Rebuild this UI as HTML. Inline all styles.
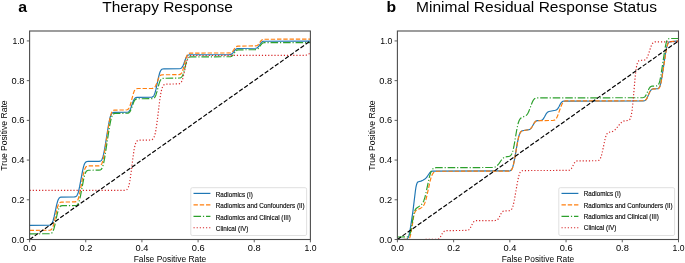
<!DOCTYPE html>
<html><head><meta charset="utf-8"><style>
html,body{margin:0;padding:0;background:#fff;}
svg{display:block;}
</style></head><body>
<svg width="685" height="263" viewBox="0 0 685 263" font-family="Liberation Sans, sans-serif" fill="#000">
<rect width="685" height="263" fill="#fff"/>
<g opacity="0.999">
<defs><clipPath id="ca"><rect x="29.6" y="31.0" width="280.80" height="208.50"/></clipPath><clipPath id="cb"><rect x="397.4" y="31.0" width="281.10" height="208.50"/></clipPath></defs>
<g stroke-linecap="butt" stroke-linejoin="round" clip-path="url(#ca)">
<path d="M29.60,225.30 49.09,225.25 50.09,225.09 50.59,224.88 51.08,224.54 51.58,224.00 52.08,223.21 52.58,222.11 53.08,220.68 54.08,216.89 56.58,205.13 57.58,201.42 58.08,200.03 58.58,198.98 59.08,198.22 59.58,197.71 60.08,197.38 60.58,197.20 74.57,196.93 75.57,196.69 76.07,196.42 76.57,195.97 77.07,195.28 77.57,194.29 78.07,192.97 78.57,191.28 79.56,186.93 82.56,170.86 83.56,166.66 84.06,165.06 84.56,163.83 85.06,162.92 85.56,162.30 86.06,161.90 86.56,161.66 87.56,161.46 99.05,161.35 100.05,161.18 100.55,160.97 101.05,160.61 101.55,160.04 102.05,159.18 102.55,157.98 103.05,156.40 103.55,154.44 104.55,149.49 108.54,124.82 109.54,119.74 110.04,117.70 110.54,116.03 111.04,114.75 111.54,113.83 112.04,113.19 112.54,112.79 113.04,112.55 114.04,112.35 127.03,112.23 128.03,111.99 128.53,111.74 129.03,111.34 129.53,110.75 130.03,109.94 130.53,108.90 133.03,101.81 133.53,100.58 134.03,99.56 134.53,98.78 135.02,98.21 135.52,97.82 136.02,97.58 137.02,97.37 151.01,97.26 152.01,97.10 152.51,96.91 153.01,96.59 153.51,96.08 154.01,95.31 154.51,94.25 155.01,92.86 156.01,89.13 158.51,77.32 159.51,73.49 160.01,72.05 160.51,70.94 161.01,70.13 161.51,69.58 162.01,69.23 162.51,69.02 164.00,68.82 179.49,68.74 180.49,68.54 180.99,68.31 181.49,67.95 181.99,67.42 182.49,66.67 182.99,65.71 183.99,63.20 185.49,59.02 185.99,57.84 186.49,56.86 186.99,56.11 187.49,55.57 187.99,55.20 188.49,54.97 189.49,54.76 229.46,54.66 230.46,54.53 231.46,54.18 231.96,53.86 232.96,52.88 234.95,50.22 235.95,49.21 236.45,48.87 237.45,48.49 255.44,48.24 256.44,48.06 256.94,47.87 257.44,47.59 257.94,47.18 258.94,46.00 260.94,43.03 261.43,42.44 261.93,41.98 262.43,41.64 263.43,41.27 310.40,41.10" stroke="#1f77b4" stroke-width="1.18" fill="none"/>
<path d="M29.60,230.30 49.09,230.27 50.09,230.14 50.59,229.98 51.08,229.70 51.58,229.25 52.08,228.56 52.58,227.59 53.08,226.29 53.58,224.67 54.58,220.56 56.58,211.01 57.58,207.06 58.08,205.55 58.58,204.36 59.08,203.49 59.58,202.88 60.08,202.49 60.58,202.26 61.58,202.06 75.07,201.93 76.07,201.68 76.57,201.39 77.07,200.93 77.57,200.22 78.07,199.21 78.57,197.86 79.06,196.15 80.06,191.74 83.06,175.54 84.06,171.29 84.56,169.66 85.06,168.40 85.56,167.47 86.06,166.83 86.56,166.42 87.06,166.17 88.06,165.96 99.05,165.83 100.05,165.60 100.55,165.33 101.05,164.88 101.55,164.17 102.05,163.16 102.55,161.77 103.05,159.99 104.05,155.29 109.04,123.47 110.04,118.13 110.54,115.95 111.04,114.16 111.54,112.77 112.04,111.74 112.54,111.03 113.04,110.58 113.54,110.30 114.54,110.07 126.03,109.96 127.03,109.79 127.53,109.60 128.03,109.28 128.53,108.77 129.03,108.03 129.53,107.02 130.03,105.71 131.03,102.32 133.03,94.53 133.53,92.92 134.03,91.59 134.53,90.55 135.02,89.78 135.52,89.26 136.02,88.92 136.52,88.72 138.02,88.52 152.01,88.46 153.01,88.33 153.51,88.16 154.01,87.89 154.51,87.47 155.01,86.86 155.51,86.04 156.51,83.78 158.51,78.39 159.01,77.31 159.51,76.46 160.01,75.81 160.51,75.36 161.01,75.07 162.01,74.80 178.99,74.63 179.99,74.40 180.49,74.14 180.99,73.72 181.49,73.09 181.99,72.20 182.49,71.02 183.49,67.83 185.49,59.94 186.49,56.73 186.99,55.54 187.49,54.64 187.99,54.00 188.49,53.57 188.99,53.31 189.99,53.07 229.46,52.96 230.46,52.82 230.96,52.66 231.46,52.42 231.96,52.07 232.46,51.60 233.45,50.32 234.95,48.11 235.95,47.00 236.45,46.63 236.95,46.37 237.95,46.11 255.44,45.94 256.44,45.77 256.94,45.59 257.44,45.32 257.94,44.93 258.94,43.80 260.94,40.95 261.43,40.38 261.93,39.94 262.43,39.62 263.43,39.26 310.40,39.10" stroke="#ff7f0e" stroke-width="1.18" fill="none" stroke-dasharray="4.37 1.89"/>
<path d="M29.60,233.80 49.59,233.77 50.59,233.64 51.08,233.48 51.58,233.20 52.08,232.75 52.58,232.07 53.08,231.11 53.58,229.82 54.08,228.20 55.08,224.10 57.08,214.57 58.08,210.64 58.58,209.13 59.08,207.95 59.58,207.08 60.08,206.48 60.58,206.09 61.08,205.86 62.08,205.66 75.57,205.53 76.57,205.30 77.07,205.03 77.57,204.58 78.07,203.90 78.57,202.93 79.06,201.61 79.56,199.94 80.56,195.60 83.56,179.59 84.56,175.41 85.06,173.83 85.56,172.60 86.06,171.70 86.56,171.09 87.06,170.69 87.56,170.46 88.56,170.26 99.05,170.16 100.05,170.02 100.55,169.83 101.05,169.51 101.55,168.98 102.05,168.18 102.55,167.04 103.05,165.53 103.55,163.61 104.55,158.69 109.54,126.58 110.54,121.27 111.04,119.12 111.54,117.35 112.04,115.98 112.54,114.98 113.04,114.29 113.54,113.85 114.04,113.59 115.04,113.36 127.03,113.26 128.03,113.10 128.53,112.92 129.03,112.63 129.53,112.17 130.03,111.52 130.53,110.64 131.53,108.24 133.53,102.58 134.03,101.46 134.53,100.56 135.02,99.88 135.52,99.41 136.02,99.10 137.02,98.80 152.01,98.66 153.01,98.52 153.51,98.34 154.01,98.05 154.51,97.58 155.01,96.89 155.51,95.93 156.01,94.69 157.01,91.44 159.01,83.89 159.51,82.34 160.01,81.05 160.51,80.05 161.01,79.32 161.51,78.82 162.01,78.50 162.51,78.31 179.49,78.03 180.49,77.81 180.99,77.56 181.49,77.16 181.99,76.54 182.49,75.67 182.99,74.52 183.99,71.38 185.99,63.60 186.99,60.44 187.49,59.27 187.99,58.39 188.49,57.77 188.99,57.35 189.49,57.10 190.49,56.87 229.96,56.74 230.96,56.56 231.46,56.37 231.96,56.09 232.46,55.68 233.45,54.51 235.45,51.58 235.95,51.00 236.45,50.55 236.95,50.22 237.95,49.86 255.44,49.66 256.44,49.52 256.94,49.36 257.44,49.12 257.94,48.77 258.44,48.30 259.44,47.01 260.94,44.77 261.93,43.63 262.43,43.25 262.93,42.99 263.93,42.71 310.40,42.60" stroke="#2ca02c" stroke-width="1.18" fill="none" stroke-dasharray="7.55 1.89 1.18 1.89"/>
<path d="M29.60,190.40 124.53,190.35 125.53,190.22 126.03,190.08 126.53,189.83 127.03,189.43 127.53,188.83 128.03,187.93 128.53,186.67 129.03,184.97 129.53,182.78 130.03,180.05 131.03,173.16 133.03,156.92 134.03,150.13 134.53,147.46 135.02,145.32 135.52,143.67 136.02,142.45 136.52,141.59 137.02,141.01 137.52,140.64 138.02,140.40 139.02,140.19 150.51,140.02 151.51,139.85 152.01,139.66 152.51,139.37 153.01,138.92 153.51,138.26 154.01,137.32 154.51,136.03 155.01,134.33 155.51,132.15 156.01,129.48 157.01,122.72 159.51,102.02 160.51,95.11 161.01,92.36 161.51,90.10 162.01,88.32 162.51,86.97 163.00,85.97 163.50,85.27 164.00,84.79 164.50,84.48 165.50,84.16 178.49,83.91 179.49,83.70 179.99,83.48 180.49,83.13 180.99,82.60 181.49,81.85 181.99,80.82 182.49,79.49 182.99,77.83 183.99,73.64 185.99,64.06 186.99,60.28 187.49,58.87 187.99,57.77 188.49,56.96 188.99,56.38 189.49,55.99 189.99,55.75 190.99,55.50 304.90,55.37 305.90,55.24 306.90,54.84 308.40,54.01 309.40,53.70 310.40,53.61" stroke="#d62728" stroke-width="1.18" fill="none" stroke-dasharray="1.18 1.95"/>
<path d="M29.60,239.50L310.40,40.93" stroke="#000" stroke-width="1.18" fill="none" stroke-dasharray="4.37 1.89"/>
</g>
<g stroke-linecap="butt" stroke-linejoin="round" clip-path="url(#cb)">
<path d="M397.40,239.50 405.40,239.46 406.40,239.30 406.90,239.08 407.40,238.69 407.90,238.02 408.40,236.98 408.90,235.48 409.40,233.47 410.40,228.06 412.91,211.40 415.41,190.72 415.91,187.49 416.41,185.09 416.91,183.49 417.41,182.52 417.91,181.99 418.41,181.72 420.91,181.12 422.91,180.22 424.91,178.99 425.91,178.16 426.91,177.01 429.41,173.26 430.41,172.14 430.91,171.75 431.41,171.47 432.41,171.16 508.94,170.96 509.94,170.81 510.44,170.62 510.94,170.29 511.44,169.77 511.94,168.98 512.44,167.87 512.94,166.40 513.44,164.56 514.44,159.89 517.44,142.72 518.44,137.90 518.94,135.97 519.44,134.40 519.94,133.18 520.44,132.30 520.94,131.68 521.44,131.26 522.44,130.79 528.95,129.65 529.95,129.24 530.45,128.88 530.95,128.39 531.95,127.02 533.95,123.46 534.95,122.03 535.45,121.51 535.95,121.14 536.45,120.88 537.45,120.61 540.95,120.37 541.95,120.05 542.45,119.73 542.95,119.28 543.45,118.67 544.45,117.04 545.95,114.23 546.45,113.44 546.95,112.80 547.45,112.30 547.95,111.94 548.95,111.51 555.46,110.26 556.46,109.87 556.96,109.53 557.46,109.05 557.96,108.41 558.96,106.72 560.46,103.83 560.96,103.02 561.46,102.37 561.96,101.87 562.46,101.52 562.96,101.29 563.96,101.07 643.49,100.93 644.49,100.73 644.99,100.52 645.49,100.19 645.99,99.72 646.49,99.08 646.99,98.26 649.49,92.59 649.99,91.58 650.49,90.75 650.99,90.10 651.49,89.62 651.99,89.29 652.99,88.95 657.49,88.72 657.99,88.60 658.49,88.35 658.99,87.89 659.49,87.10 659.99,85.91 660.49,84.23 660.99,82.08 661.99,76.56 665.50,53.49 666.50,48.10 667.00,46.02 667.50,44.43 668.00,43.31 668.50,42.58 669.00,42.15 669.50,41.91 678.50,40.96" stroke="#1f77b4" stroke-width="1.18" fill="none"/>
<path d="M397.40,239.50 407.40,239.44 407.90,239.36 408.40,239.18 408.90,238.84 409.40,238.22 409.90,237.20 410.40,235.66 410.90,233.52 411.91,227.64 413.41,217.91 413.91,215.40 414.41,213.48 414.91,212.11 415.41,211.20 415.91,210.62 416.41,210.24 420.41,208.37 421.91,207.38 422.91,206.40 423.41,205.75 423.91,204.94 424.41,203.95 424.91,202.75 425.91,199.67 426.91,195.71 429.91,181.87 430.91,178.13 431.41,176.61 431.91,175.33 432.41,174.28 432.91,173.44 433.41,172.79 433.91,172.31 434.41,171.95 435.41,171.52 437.41,171.24 508.94,171.16 509.94,171.00 510.44,170.81 510.94,170.48 511.44,169.95 511.94,169.15 512.44,168.03 512.94,166.55 513.44,164.70 514.44,160.01 517.44,142.79 518.44,137.96 518.94,136.02 519.44,134.43 519.94,133.21 520.44,132.31 520.94,131.69 521.44,131.27 522.44,130.79 528.95,129.65 529.95,129.24 530.45,128.88 530.95,128.39 531.95,127.02 533.95,123.46 534.95,122.03 535.45,121.51 535.95,121.14 536.45,120.88 537.45,120.61 552.96,120.45 553.96,120.29 554.46,120.12 554.96,119.86 555.46,119.47 555.96,118.93 556.46,118.21 557.46,116.25 560.96,106.49 561.96,104.15 562.46,103.23 562.96,102.48 563.46,101.91 563.96,101.50 564.46,101.21 565.46,100.92 643.49,100.73 644.49,100.53 644.99,100.33 645.49,100.01 645.99,99.54 646.49,98.91 646.99,98.10 649.49,92.52 649.99,91.54 650.49,90.72 650.99,90.08 651.49,89.61 651.99,89.29 652.99,88.95 657.49,88.75 657.99,88.66 658.49,88.47 658.99,88.10 659.49,87.46 659.99,86.43 660.49,84.95 660.99,82.97 661.99,77.72 666.00,51.57 666.50,48.89 667.00,46.62 667.50,44.82 668.00,43.51 668.50,42.64 669.00,42.10 669.50,41.80 670.50,41.55 678.50,40.95" stroke="#ff7f0e" stroke-width="1.18" fill="none" stroke-dasharray="4.37 1.89"/>
<path d="M397.40,237.00 406.90,236.95 407.90,236.76 408.40,236.51 408.90,236.06 409.40,235.31 409.90,234.16 410.40,232.53 410.90,230.37 413.41,215.85 413.91,213.54 414.41,211.72 414.91,210.37 415.41,209.41 415.91,208.74 416.41,208.25 420.41,205.53 421.41,204.65 422.41,203.42 422.91,202.60 423.41,201.60 423.91,200.40 424.91,197.31 425.91,193.31 428.91,179.03 429.91,175.09 430.91,172.10 431.41,170.97 431.91,170.07 432.41,169.36 432.91,168.83 433.41,168.44 434.41,167.96 435.91,167.68 492.93,167.50 494.43,167.25 495.43,166.89 496.44,166.30 497.44,165.42 498.94,163.59 501.44,160.01 502.44,158.81 503.44,157.90 504.44,157.27 505.44,156.89 508.94,156.35 509.94,156.00 510.44,155.68 510.94,155.19 511.44,154.49 511.94,153.53 512.44,152.24 512.94,150.61 513.94,146.24 516.94,128.83 517.94,124.26 518.44,122.50 518.94,121.09 519.44,119.99 519.94,119.15 520.44,118.51 520.94,118.03 521.94,117.37 525.45,115.90 526.45,115.20 526.95,114.68 527.45,114.01 528.45,112.20 529.95,108.45 531.95,103.00 532.95,100.83 533.45,99.99 533.95,99.32 534.45,98.81 534.95,98.44 535.45,98.18 536.45,97.92 642.49,97.73 643.49,97.54 643.99,97.33 644.49,97.02 644.99,96.57 645.49,95.94 645.99,95.15 648.49,89.66 648.99,88.69 649.49,87.89 649.99,87.26 650.49,86.80 650.99,86.48 651.99,86.15 656.49,85.94 656.99,85.86 657.49,85.67 657.99,85.30 658.49,84.65 658.99,83.62 659.49,82.12 659.99,80.14 660.99,74.85 665.00,48.54 665.50,45.84 666.00,43.56 666.50,41.76 667.00,40.44 667.50,39.57 668.00,39.04 668.50,38.74 669.50,38.54 678.50,38.50" stroke="#2ca02c" stroke-width="1.18" fill="none" stroke-dasharray="7.55 1.89 1.18 1.89"/>
<path d="M397.40,239.50 436.41,239.45 437.41,239.32 438.41,238.95 438.91,238.62 439.41,238.16 440.42,236.86 442.42,233.41 443.42,232.02 443.92,231.52 444.42,231.15 444.92,230.89 445.92,230.62 466.92,230.43 467.93,230.23 468.43,230.01 468.93,229.66 469.43,229.17 469.93,228.51 470.93,226.74 472.43,223.68 472.93,222.81 473.43,222.10 473.93,221.56 474.43,221.18 474.93,220.93 475.93,220.69 495.43,220.53 496.44,220.33 496.94,220.11 497.44,219.77 497.94,219.28 498.44,218.62 499.44,216.86 500.94,213.83 501.44,212.97 501.94,212.28 502.44,211.74 502.94,211.37 503.44,211.12 504.44,210.88 509.44,210.71 509.94,210.60 510.44,210.41 510.94,210.08 511.44,209.54 511.94,208.74 512.44,207.62 512.94,206.13 513.44,204.28 514.44,199.57 517.44,182.34 518.44,177.50 518.94,175.57 519.44,173.99 519.94,172.79 520.44,171.92 520.94,171.33 521.44,170.95 521.94,170.73 522.94,170.55 568.46,170.43 569.46,170.22 569.96,170.00 570.46,169.65 570.96,169.16 571.46,168.50 572.46,166.74 573.96,163.75 574.46,162.91 574.96,162.23 575.46,161.71 575.96,161.35 576.46,161.11 577.46,160.88 597.47,160.73 598.47,160.51 598.97,160.26 599.47,159.84 599.97,159.19 600.47,158.27 600.97,157.03 601.47,155.45 602.47,151.40 604.97,139.56 605.47,137.63 605.97,136.02 606.47,134.74 606.97,133.78 607.47,133.11 607.97,132.65 608.48,132.37 611.98,131.61 612.98,131.22 613.98,130.65 614.98,129.85 616.48,128.25 619.98,123.82 621.48,122.36 622.48,121.66 623.48,121.18 624.98,120.77 627.98,120.45 628.48,120.34 628.98,120.15 629.48,119.79 629.98,119.16 630.48,118.13 630.98,116.54 631.48,114.23 631.98,111.07 632.48,107.01 633.48,96.53 634.98,79.04 635.48,74.08 635.98,69.96 636.49,66.74 636.99,64.38 637.49,62.75 637.99,61.69 638.49,61.05 638.99,60.68 639.49,60.48 643.99,60.15 644.99,59.84 645.49,59.55 645.99,59.12 646.49,58.53 646.99,57.74 647.49,56.75 648.49,54.16 650.49,47.90 651.49,45.30 651.99,44.29 652.49,43.50 652.99,42.90 653.49,42.47 653.99,42.17 654.99,41.86 678.50,41.70" stroke="#d62728" stroke-width="1.18" fill="none" stroke-dasharray="1.18 1.95"/>
<path d="M397.40,239.50L678.50,40.93" stroke="#000" stroke-width="1.18" fill="none" stroke-dasharray="4.37 1.89"/>
</g>
<line x1="29.60" y1="239.50" x2="29.60" y2="242.30" stroke="#4d4d4d" stroke-width="0.9"/>
<line x1="26.80" y1="239.50" x2="29.60" y2="239.50" stroke="#4d4d4d" stroke-width="0.9"/>
<text x="29.70" y="251.2" font-size="8.7" text-anchor="middle" textLength="12.9" lengthAdjust="spacingAndGlyphs">0.0</text>
<text x="24.40" y="242.55" font-size="8.7" text-anchor="end" textLength="12.9" lengthAdjust="spacingAndGlyphs">0.0</text>
<line x1="85.76" y1="239.50" x2="85.76" y2="242.30" stroke="#4d4d4d" stroke-width="0.9"/>
<line x1="26.80" y1="199.79" x2="29.60" y2="199.79" stroke="#4d4d4d" stroke-width="0.9"/>
<text x="85.86" y="251.2" font-size="8.7" text-anchor="middle" textLength="12.9" lengthAdjust="spacingAndGlyphs">0.2</text>
<text x="24.40" y="202.84" font-size="8.7" text-anchor="end" textLength="12.9" lengthAdjust="spacingAndGlyphs">0.2</text>
<line x1="141.92" y1="239.50" x2="141.92" y2="242.30" stroke="#4d4d4d" stroke-width="0.9"/>
<line x1="26.80" y1="160.07" x2="29.60" y2="160.07" stroke="#4d4d4d" stroke-width="0.9"/>
<text x="142.02" y="251.2" font-size="8.7" text-anchor="middle" textLength="12.9" lengthAdjust="spacingAndGlyphs">0.4</text>
<text x="24.40" y="163.12" font-size="8.7" text-anchor="end" textLength="12.9" lengthAdjust="spacingAndGlyphs">0.4</text>
<line x1="198.08" y1="239.50" x2="198.08" y2="242.30" stroke="#4d4d4d" stroke-width="0.9"/>
<line x1="26.80" y1="120.36" x2="29.60" y2="120.36" stroke="#4d4d4d" stroke-width="0.9"/>
<text x="198.18" y="251.2" font-size="8.7" text-anchor="middle" textLength="12.9" lengthAdjust="spacingAndGlyphs">0.6</text>
<text x="24.40" y="123.41" font-size="8.7" text-anchor="end" textLength="12.9" lengthAdjust="spacingAndGlyphs">0.6</text>
<line x1="254.24" y1="239.50" x2="254.24" y2="242.30" stroke="#4d4d4d" stroke-width="0.9"/>
<line x1="26.80" y1="80.64" x2="29.60" y2="80.64" stroke="#4d4d4d" stroke-width="0.9"/>
<text x="254.34" y="251.2" font-size="8.7" text-anchor="middle" textLength="12.9" lengthAdjust="spacingAndGlyphs">0.8</text>
<text x="24.40" y="83.69" font-size="8.7" text-anchor="end" textLength="12.9" lengthAdjust="spacingAndGlyphs">0.8</text>
<line x1="310.40" y1="239.50" x2="310.40" y2="242.30" stroke="#4d4d4d" stroke-width="0.9"/>
<line x1="26.80" y1="40.93" x2="29.60" y2="40.93" stroke="#4d4d4d" stroke-width="0.9"/>
<text x="310.50" y="251.2" font-size="8.7" text-anchor="middle" textLength="12.0" lengthAdjust="spacingAndGlyphs">1.0</text>
<text x="24.40" y="43.98" font-size="8.7" text-anchor="end" textLength="12.0" lengthAdjust="spacingAndGlyphs">1.0</text>
<rect x="29.60" y="31.00" width="280.80" height="208.50" fill="none" stroke="#4d4d4d" stroke-width="1.1"/>
<line x1="397.40" y1="239.50" x2="397.40" y2="242.30" stroke="#4d4d4d" stroke-width="0.9"/>
<line x1="394.60" y1="239.50" x2="397.40" y2="239.50" stroke="#4d4d4d" stroke-width="0.9"/>
<text x="397.50" y="251.2" font-size="8.7" text-anchor="middle" textLength="12.9" lengthAdjust="spacingAndGlyphs">0.0</text>
<text x="392.20" y="242.55" font-size="8.7" text-anchor="end" textLength="12.9" lengthAdjust="spacingAndGlyphs">0.0</text>
<line x1="453.62" y1="239.50" x2="453.62" y2="242.30" stroke="#4d4d4d" stroke-width="0.9"/>
<line x1="394.60" y1="199.79" x2="397.40" y2="199.79" stroke="#4d4d4d" stroke-width="0.9"/>
<text x="453.72" y="251.2" font-size="8.7" text-anchor="middle" textLength="12.9" lengthAdjust="spacingAndGlyphs">0.2</text>
<text x="392.20" y="202.84" font-size="8.7" text-anchor="end" textLength="12.9" lengthAdjust="spacingAndGlyphs">0.2</text>
<line x1="509.84" y1="239.50" x2="509.84" y2="242.30" stroke="#4d4d4d" stroke-width="0.9"/>
<line x1="394.60" y1="160.07" x2="397.40" y2="160.07" stroke="#4d4d4d" stroke-width="0.9"/>
<text x="509.94" y="251.2" font-size="8.7" text-anchor="middle" textLength="12.9" lengthAdjust="spacingAndGlyphs">0.4</text>
<text x="392.20" y="163.12" font-size="8.7" text-anchor="end" textLength="12.9" lengthAdjust="spacingAndGlyphs">0.4</text>
<line x1="566.06" y1="239.50" x2="566.06" y2="242.30" stroke="#4d4d4d" stroke-width="0.9"/>
<line x1="394.60" y1="120.36" x2="397.40" y2="120.36" stroke="#4d4d4d" stroke-width="0.9"/>
<text x="566.16" y="251.2" font-size="8.7" text-anchor="middle" textLength="12.9" lengthAdjust="spacingAndGlyphs">0.6</text>
<text x="392.20" y="123.41" font-size="8.7" text-anchor="end" textLength="12.9" lengthAdjust="spacingAndGlyphs">0.6</text>
<line x1="622.28" y1="239.50" x2="622.28" y2="242.30" stroke="#4d4d4d" stroke-width="0.9"/>
<line x1="394.60" y1="80.64" x2="397.40" y2="80.64" stroke="#4d4d4d" stroke-width="0.9"/>
<text x="622.38" y="251.2" font-size="8.7" text-anchor="middle" textLength="12.9" lengthAdjust="spacingAndGlyphs">0.8</text>
<text x="392.20" y="83.69" font-size="8.7" text-anchor="end" textLength="12.9" lengthAdjust="spacingAndGlyphs">0.8</text>
<line x1="678.50" y1="239.50" x2="678.50" y2="242.30" stroke="#4d4d4d" stroke-width="0.9"/>
<line x1="394.60" y1="40.93" x2="397.40" y2="40.93" stroke="#4d4d4d" stroke-width="0.9"/>
<text x="678.60" y="251.2" font-size="8.7" text-anchor="middle" textLength="12.0" lengthAdjust="spacingAndGlyphs">1.0</text>
<text x="392.20" y="43.98" font-size="8.7" text-anchor="end" textLength="12.0" lengthAdjust="spacingAndGlyphs">1.0</text>
<rect x="397.40" y="31.00" width="281.10" height="208.50" fill="none" stroke="#4d4d4d" stroke-width="1.1"/>
<rect x="190.80" y="187.70" width="115.8" height="47.8" rx="1.5" fill="#fff" fill-opacity="0.8" stroke="#dddddd" stroke-width="0.9"/>
<line x1="193.5" y1="193.40" x2="210.4" y2="193.40" stroke="#1f77b4" stroke-width="1.18"/>
<text x="215.8" y="196.70" font-size="6.6" textLength="37.0" lengthAdjust="spacingAndGlyphs" stroke="#000" stroke-width="0.12">Radiomics (I)</text>
<line x1="193.5" y1="204.85" x2="210.4" y2="204.85" stroke="#ff7f0e" stroke-width="1.18" stroke-dasharray="4.37 1.89"/>
<text x="215.8" y="208.15" font-size="6.6" textLength="88.8" lengthAdjust="spacingAndGlyphs" stroke="#000" stroke-width="0.12">Radiomics and Confounders (II)</text>
<line x1="193.5" y1="216.30" x2="210.4" y2="216.30" stroke="#2ca02c" stroke-width="1.18" stroke-dasharray="7.55 1.89 1.18 1.89"/>
<text x="215.8" y="219.60" font-size="6.6" textLength="75.0" lengthAdjust="spacingAndGlyphs" stroke="#000" stroke-width="0.12">Radiomics and Clinical (III)</text>
<line x1="193.5" y1="227.75" x2="210.4" y2="227.75" stroke="#d62728" stroke-width="1.18" stroke-dasharray="1.18 1.95"/>
<text x="215.8" y="231.05" font-size="6.6" textLength="32.5" lengthAdjust="spacingAndGlyphs" stroke="#000" stroke-width="0.12">Clinical (IV)</text>
<rect x="558.80" y="187.70" width="115.8" height="47.8" rx="1.5" fill="#fff" fill-opacity="0.8" stroke="#dddddd" stroke-width="0.9"/>
<line x1="561.5" y1="193.40" x2="578.4" y2="193.40" stroke="#1f77b4" stroke-width="1.18"/>
<text x="583.8" y="196.10" font-size="6.6" textLength="37.0" lengthAdjust="spacingAndGlyphs" stroke="#000" stroke-width="0.12">Radiomics (I)</text>
<line x1="561.5" y1="204.85" x2="578.4" y2="204.85" stroke="#ff7f0e" stroke-width="1.18" stroke-dasharray="4.37 1.89"/>
<text x="583.8" y="207.55" font-size="6.6" textLength="88.8" lengthAdjust="spacingAndGlyphs" stroke="#000" stroke-width="0.12">Radiomics and Confounders (II)</text>
<line x1="561.5" y1="216.30" x2="578.4" y2="216.30" stroke="#2ca02c" stroke-width="1.18" stroke-dasharray="7.55 1.89 1.18 1.89"/>
<text x="583.8" y="219.00" font-size="6.6" textLength="75.0" lengthAdjust="spacingAndGlyphs" stroke="#000" stroke-width="0.12">Radiomics and Clinical (III)</text>
<line x1="561.5" y1="227.75" x2="578.4" y2="227.75" stroke="#d62728" stroke-width="1.18" stroke-dasharray="1.18 1.95"/>
<text x="583.8" y="230.45" font-size="6.6" textLength="32.5" lengthAdjust="spacingAndGlyphs" stroke="#000" stroke-width="0.12">Clinical (IV)</text>
<text x="18.2" y="12.0" font-size="14.8" textLength="8.8" lengthAdjust="spacingAndGlyphs" font-weight="bold">a</text>
<text x="102.2" y="12.3" font-size="14.7" textLength="130.6" lengthAdjust="spacingAndGlyphs">Therapy Response</text>
<text x="386.5" y="12.4" font-size="15.0" textLength="9.6" lengthAdjust="spacingAndGlyphs" font-weight="bold">b</text>
<text x="416.0" y="12.3" font-size="14.7" textLength="241.0" lengthAdjust="spacingAndGlyphs">Minimal Residual Response Status</text>
<text x="170.00" y="261.7" font-size="8.3" text-anchor="middle" textLength="72.6" lengthAdjust="spacingAndGlyphs">False Positive Rate</text>
<text x="537.95" y="261.7" font-size="8.3" text-anchor="middle" textLength="72.6" lengthAdjust="spacingAndGlyphs">False Positive Rate</text>
<text x="0" y="0" font-size="8.3" text-anchor="middle" textLength="70.2" lengthAdjust="spacingAndGlyphs" transform="translate(6.9,135.55) rotate(-90)">True Positive Rate</text>
<text x="0" y="0" font-size="8.3" text-anchor="middle" textLength="70.2" lengthAdjust="spacingAndGlyphs" transform="translate(374.8,135.55) rotate(-90)">True Positive Rate</text>
</g>
</svg>
</body></html>
